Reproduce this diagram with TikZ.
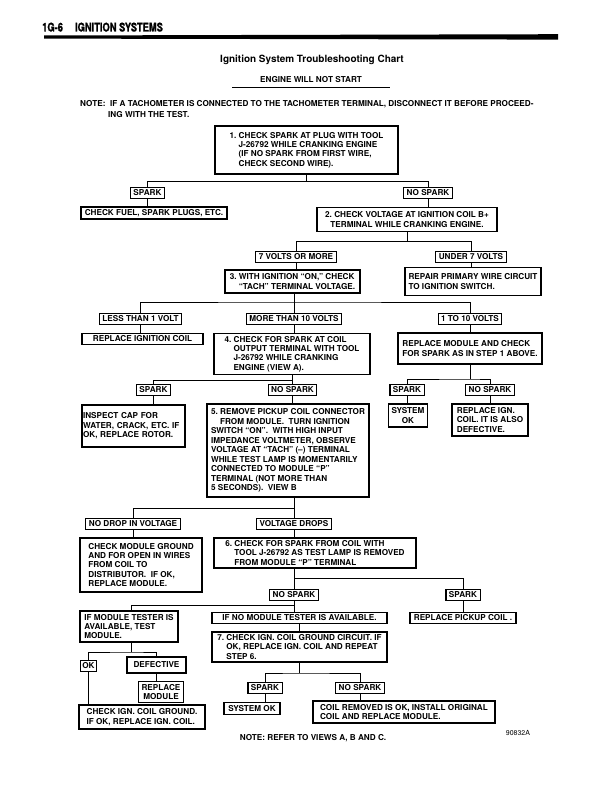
\documentclass[tikz,border=0pt]{standalone}
\usepackage{fontspec}
\setmainfont{TeX Gyre Heros}
\usetikzlibrary{positioning}

\newcommand{\chartfont}{\fontsize{8.2}{9.5}\selectfont\bfseries}
\newcommand{\ind}{\hspace*{1.1em}}

\begin{document}
\begin{tikzpicture}[x=1bp, y=-1bp,
  stepbox/.style={draw, line width=1.05pt, inner xsep=3pt, inner ysep=2pt, align=left, font=\chartfont},
  tagbox/.style={draw, line width=1.05pt, inner xsep=3pt, inner ysep=1pt, minimum height=11bp, font=\chartfont},
  link/.style={line width=0.9pt}]
  \useasboundingbox (0,0) rectangle (612,792);

  % Page header
  \node[anchor=base west, inner sep=0] (head) at (42,31.5)
    {\scalebox{0.78}[1]{\fontsize{12}{12}\selectfont\bfseries\addfontfeatures{FakeBold=1.5}1G-6\hspace{1.3em}IGNITION SYSTEMS}};
  \fill (44,35.5) -- (558,34.2) -- (558,39.6) -- (44,38.6) -- cycle;

  % Titles and note
  \node[font=\fontsize{10}{12}\selectfont\bfseries] (title) at (312,60) {Ignition System Troubleshooting Chart};
  \node[font=\chartfont] (sub) at (311,80) {ENGINE WILL NOT START};
  \draw[link] (232,87) -- (390,87);
  \node[font=\chartfont, anchor=base west, inner sep=0] (note) at (80,106)
    {NOTE:\ \ IF A TACHOMETER IS CONNECTED TO THE TACHOMETER TERMINAL, DISCONNECT IT BEFORE PROCEED-};
  \node[font=\chartfont, anchor=base west, inner sep=0] (note2) at (108,117) {ING WITH THE TEST.};

  % Step 1
  \node[stepbox, minimum width=183bp, minimum height=48bp] (step1) at (306.5,150)
    {1.\ CHECK SPARK AT PLUG WITH TOOL\\ \ind J-26792 WHILE CRANKING ENGINE\\ \ind (IF NO SPARK FROM FIRST WIRE,\\ \ind CHECK SECOND WIRE).};
  \node[tagbox] (spark1) at (147.5,193) {SPARK};
  \node[tagbox] (nospark1) at (428,193) {NO SPARK};
  \node[stepbox, minimum width=146bp, minimum height=12bp, inner ysep=1pt] (fuel) at (154,213) {CHECK FUEL, SPARK PLUGS, ETC.};

  % Step 2
  \node[stepbox, minimum width=180bp, minimum height=24bp, align=center] (step2) at (407,219.5)
    {2.\ CHECK VOLTAGE AT IGNITION COIL B+\\ TERMINAL WHILE CRANKING ENGINE.};
  \node[tagbox] (volt7) at (296,257) {7 VOLTS OR MORE};
  \node[tagbox] (under7) at (471,257) {UNDER 7 VOLTS};
  \node[stepbox, minimum width=136bp, minimum height=28bp] (repair) at (473,281.5)
    {REPAIR PRIMARY WIRE CIRCUIT\\ TO IGNITION SWITCH.};

  % Step 3
  \node[stepbox, minimum width=135bp, minimum height=23bp] (step3) at (292.5,281.5)
    {3.\ WITH IGNITION ``ON,'' CHECK\\ \ind ``TACH'' TERMINAL VOLTAGE.};
  \node[tagbox] (less1) at (140.5,319) {LESS THAN 1 VOLT};
  \node[tagbox] (more10) at (294,319) {MORE THAN 10 VOLTS};
  \node[tagbox] (one10) at (470,319) {1 TO 10 VOLTS};
  \node[stepbox, minimum width=121bp, minimum height=11bp, inner ysep=1pt] (coil) at (142.5,339) {REPLACE IGNITION COIL};
  \node[stepbox, minimum width=144bp, minimum height=31bp] (repmod) at (470,348.5)
    {REPLACE MODULE AND CHECK\\ FOR SPARK AS IN STEP 1 ABOVE.};

  % Step 4
  \node[stepbox, minimum width=156bp, minimum height=40bp] (step4) at (292,354)
    {4.\ CHECK FOR SPARK AT COIL\\ \ind OUTPUT TERMINAL WITH TOOL\\ \ind J-26792 WHILE CRANKING\\ \ind ENGINE (VIEW A).};
  \node[tagbox] (spark4) at (153.5,390) {SPARK};
  \node[tagbox] (nospark4) at (292.5,390) {NO SPARK};
  \node[tagbox] (sparkR) at (407,390) {SPARK};
  \node[tagbox] (nosparkR) at (490,390) {NO SPARK};
  \node[stepbox, text width=101bp, minimum height=42bp, inner xsep=1pt] (cap) at (133.5,426)
    {INSPECT CAP FOR\\ WATER, CRACK, ETC. IF\\ OK, REPLACE ROTOR.};
  \node[stepbox, minimum width=38bp, minimum height=23bp, align=center] (sysok) at (408,415.5) {SYSTEM\\ OK};
  \node[stepbox, minimum width=76bp, minimum height=32bp] (repign) at (490,420)
    {REPLACE IGN.\\ COIL. IT IS ALSO\\ DEFECTIVE.};

  % Step 5
  \node[stepbox, minimum width=162bp, minimum height=93bp] (step5) at (288,450.5)
    {5.\ REMOVE PICKUP COIL CONNECTOR\\ \ind FROM MODULE.\ \ TURN IGNITION\\ SWITCH ``ON''.\ \ WITH HIGH INPUT\\
     IMPEDANCE VOLTMETER, OBSERVE\\ VOLTAGE AT ``TACH'' (--) TERMINAL\\ WHILE TEST LAMP IS MOMENTARILY\\
     CONNECTED TO MODULE ``P''\\ TERMINAL (NOT MORE THAN\\ 5 SECONDS).\ \ VIEW B};
  \node[tagbox] (nodrop) at (133,524) {NO DROP IN VOLTAGE};
  \node[tagbox] (vdrops) at (294,524) {VOLTAGE DROPS};
  \node[stepbox, minimum width=122bp, minimum height=54bp] (modgnd) at (141,565)
    {CHECK MODULE GROUND\\ AND FOR OPEN IN WIRES\\ FROM COIL TO\\ DISTRIBUTOR.\ \ IF OK,\\ REPLACE MODULE.};

  % Step 6
  \node[stepbox, minimum width=202bp, minimum height=30bp] (step6) at (315,553)
    {6.\ CHECK FOR SPARK FROM COIL WITH\\ \ind TOOL J-26792 AS TEST LAMP IS REMOVED\\ \ind FROM MODULE ``P'' TERMINAL};
  \node[tagbox] (nospark6) at (294,595) {NO SPARK};
  \node[tagbox] (spark6) at (463,595) {SPARK};
  \node[stepbox, minimum width=98bp, minimum height=31bp] (modtest) at (129,626.5)
    {IF MODULE TESTER IS\\ AVAILABLE, TEST\\ MODULE.};
  \node[stepbox, minimum width=175bp, minimum height=11bp, inner ysep=1pt, align=center] (nomod) at (299.5,618)
    {IF NO MODULE TESTER IS AVAILABLE.};
  \node[stepbox, minimum width=106bp, minimum height=11bp, inner ysep=1pt, align=center] (pickup) at (463,618)
    {REPLACE PICKUP COIL .};

  % Step 7
  \node[stepbox, minimum width=175bp, minimum height=30bp] (step7) at (299.5,647)
    {7.\ CHECK IGN. COIL GROUND CIRCUIT. IF\\ \ind OK, REPLACE IGN. COIL AND REPEAT\\ \ind STEP 6.};
  \node[tagbox, inner xsep=2pt] (ok) at (88.5,666) {OK};
  \node[tagbox, minimum width=59bp, minimum height=16bp] (defect) at (156.5,665) {DEFECTIVE};
  \node[stepbox, minimum width=44bp, minimum height=21bp, inner ysep=1pt, align=center] (repmod2) at (161,692)
    {REPLACE\\ MODULE};
  \node[stepbox, minimum width=126bp, minimum height=24bp] (coilgnd) at (142,717)
    {CHECK IGN. COIL GROUND.\\ IF OK, REPLACE IGN. COIL.};
  \node[tagbox] (spark7) at (265,688) {SPARK};
  \node[tagbox] (nospark7) at (360,688) {NO SPARK};
  \node[stepbox, minimum width=56bp, minimum height=12bp, inner ysep=1pt, align=center] (sysok7) at (252,708.5) {SYSTEM OK};
  \node[stepbox, minimum width=182bp, minimum height=22bp] (coilrem) at (404,712)
    {COIL REMOVED IS OK, INSTALL ORIGINAL\\ COIL AND REPLACE MODULE.};

  % Footer
  \node[font=\chartfont] (refer) at (313,738) {NOTE: REFER TO VIEWS A, B AND C.};
  \node[font=\fontsize{7}{8}\selectfont] (fig) at (518,733) {90832A};

  % Junctions
  \coordinate (j1) at (306.5,181.5);
  \coordinate (j2) at (407,241.5);
  \coordinate (j3) at (294,302);
  \coordinate (j4) at (292.5,380.5);
  \coordinate (j4r) at (470,379);
  \coordinate (j5) at (294,508);
  \coordinate (j6) at (294,578);
  \coordinate (j7) at (294,605);
  \coordinate (j8) at (131,652);
  \coordinate (j9) at (299.5,673);

  % Connectors
  \draw[link] (step1.south) -- (j1);
  \draw[link] (spark1.north) |- (j1) -| (nospark1.north);
  \draw[link] (spark1.south) -- (spark1.south |- fuel.north);
  \draw[link] (nospark1.south) -- (nospark1.south |- step2.north);
  \draw[link] (step2.south) -- (j2);
  \draw[link] (volt7.north) |- (j2) -| (under7.north);
  \draw[link] (volt7.south) -- (volt7.south |- step3.north);
  \draw[link] (under7.south) -- (under7.south |- repair.north);
  \draw[link] (step3.south -| j3) -- (j3);
  \draw[link] (less1.north) |- (j3) -| (one10.north);
  \draw[link] (j3) -- (more10.north);
  \draw[link] (less1.south) -- (less1.south |- coil.north);
  \draw[link] (more10.south) -- (more10.south |- step4.north);
  \draw[link] (one10.south) -- (one10.south |- repmod.north);
  \draw[link] (step4.south -| j4) -- (j4);
  \draw[link] (spark4.north) |- (j4) -- (nospark4.north);
  \draw[link] (repmod.south) -- (j4r);
  \draw[link] (sparkR.north) |- (j4r) -| (nosparkR.north);
  \draw[link] (spark4.south) -- (spark4.south |- cap.north);
  \draw[link] (nospark4.south) -- (nospark4.south |- step5.north);
  \draw[link] (sparkR.south) -- (sparkR.south |- sysok.north);
  \draw[link] (nosparkR.south) -- (nosparkR.south |- repign.north);
  \draw[link] (step5.south -| j5) -- (j5);
  \draw[link] (nodrop.north) |- (j5) -- (vdrops.north);
  \draw[link] (nodrop.south) -- (nodrop.south |- modgnd.north);
  \draw[link] (vdrops.south) -- (vdrops.south |- step6.north);
  \draw[link] (step6.south -| j6) -- (j6);
  \draw[link] (nospark6.north) |- (j6) -| (spark6.north);
  \draw[link] (spark6.south) -- (spark6.south |- pickup.north);
  \draw[link] (nospark6.south) -- (nospark6.south |- nomod.north);
  \draw[link] (modtest.north -| j8) |- (j7);
  \draw[link] (nomod.south) -- (nomod.south |- step7.north);
  \draw[link] (modtest.south -| j8) -- (j8);
  \draw[link] (ok.north) |- (j8) -| (defect.north);
  \draw[link] (defect.south) -- (defect.south |- repmod2.north);
  \draw[link] (ok.south) -- (ok.south |- coilgnd.north);
  \draw[link] (step7.south) -- (j9);
  \draw[link] (spark7.north) |- (j9) -| (nospark7.north);
  \draw[link] (spark7.south) -- (spark7.south |- sysok7.north);
  \draw[link] (nospark7.south) -- (nospark7.south |- coilrem.north);
\end{tikzpicture}
\end{document}
